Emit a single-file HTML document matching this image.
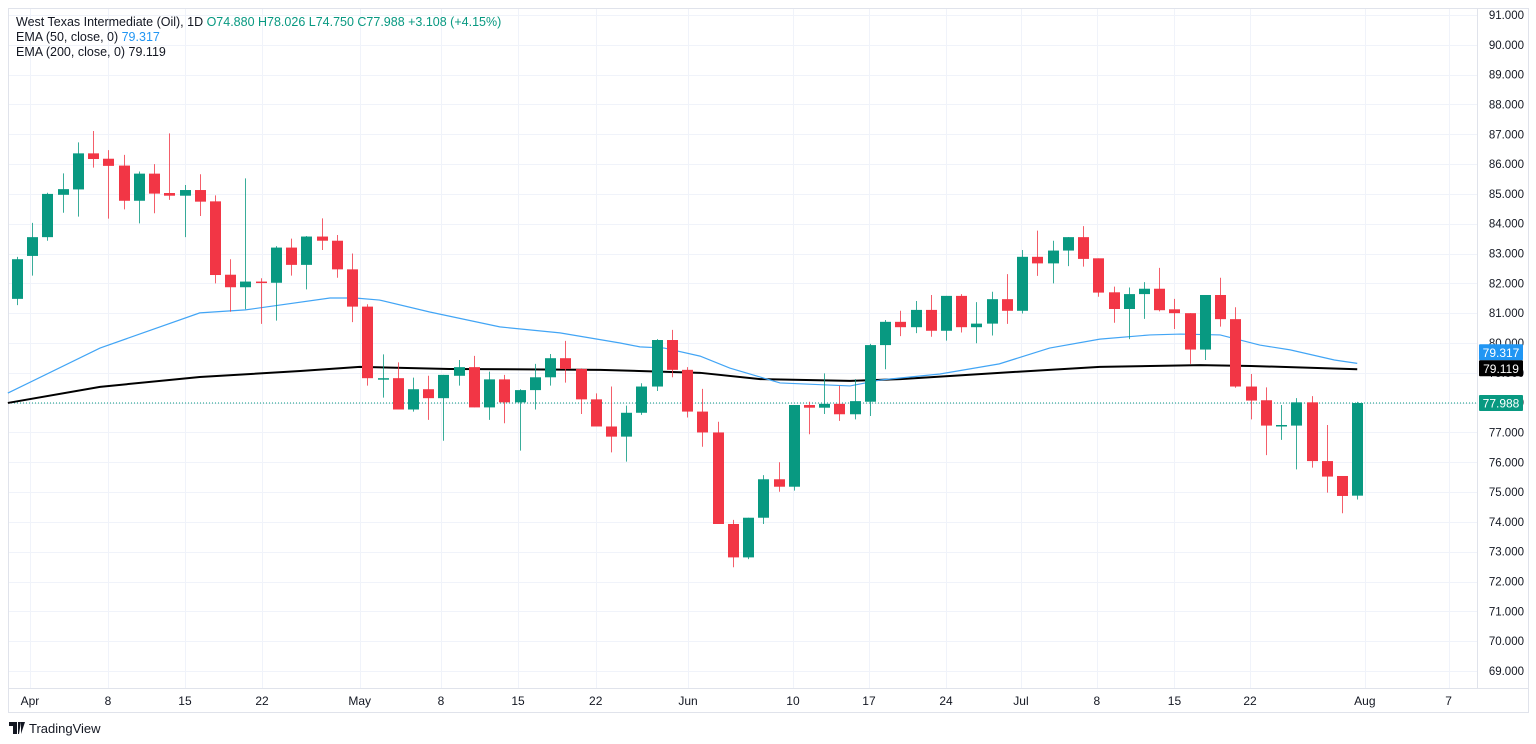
<!DOCTYPE html>
<html><head><meta charset="utf-8"><style>
html,body{margin:0;padding:0;background:#fff;width:1536px;height:744px;overflow:hidden}
svg{display:block;font-family:"Liberation Sans",sans-serif}
</style></head><body>
<svg id="chart" width="1536" height="744" viewBox="0 0 1536 744" xmlns="http://www.w3.org/2000/svg">
<rect x="0" y="0" width="1536" height="744" fill="#fff"/>
<g id="grid"></g>
<g id="frame">
<line x1="8.5" y1="8" x2="8.5" y2="713" stroke="#e0e3eb"/>
<line x1="1528.5" y1="8" x2="1528.5" y2="713" stroke="#e0e3eb"/>
<line x1="8" y1="8.5" x2="1528" y2="8.5" stroke="#e0e3eb"/>
<line x1="8" y1="688.5" x2="1528" y2="688.5" stroke="#e0e3eb"/>
<line x1="8" y1="712.5" x2="1528" y2="712.5" stroke="#e0e3eb"/>
<line x1="1477.5" y1="8" x2="1477.5" y2="688" stroke="#e0e3eb"/>
</g>
<g id="yaxis"></g>
<g id="xaxis"></g>
<g id="emas"></g>
<g id="candles"></g>
<g id="labels"></g>
<g font-size="12.5" fill="#131722">
<text x="16" y="26">West Texas Intermediate (Oil), 1D <tspan fill="#089981">O74.880  H78.026  L74.750  C77.988  +3.108 (+4.15%)</tspan></text>
<text x="16" y="41">EMA (50, close, 0) <tspan fill="#2196f3">79.317</tspan></text>
<text x="16" y="56">EMA (200, close, 0) 79.119</text>
</g>
<g>
<path d="M9 722h8v12h-4v-8H9z M18 722h3l-2 12h-1z M21 722h4l-4 12z" fill="#131722"/>
<text x="29" y="733" font-size="13" fill="#131722">TradingView</text>
</g>
</svg>
<script>
const opens  = [81.48,82.92,83.55,84.97,85.15,86.36,86.18,85.95,84.77,85.68,85.03,84.94,85.13,84.75,82.29,81.87,82.06,82.02,83.2,82.62,83.57,83.43,82.47,81.22,78.82,78.82,77.77,78.45,78.15,78.9,79.19,77.84,78.78,78.01,78.42,78.85,79.49,79.13,78.11,77.2,76.86,77.66,78.54,80.1,79.1,77.7,77.0,73.93,72.81,74.14,75.43,75.18,77.92,77.83,77.96,77.61,78.03,79.93,80.71,80.53,81.11,80.41,81.58,80.53,80.65,81.47,81.08,82.89,82.67,83.1,83.55,82.84,81.70,81.14,81.64,81.82,81.13,81.0,79.78,81.61,80.8,78.54,78.08,77.25,77.23,78.01,76.04,75.54,74.88];
const highs  = [82.89,84.03,85.04,85.69,86.73,87.11,86.47,86.31,85.75,86.0,87.03,85.30,85.66,84.95,82.81,85.52,82.17,83.25,83.5,83.59,84.18,83.62,83.0,81.3,79.62,79.35,78.84,78.9,78.93,79.43,79.57,79.04,78.93,78.45,79.3,79.63,80.07,79.15,78.31,78.54,77.9,78.65,80.13,80.44,79.19,78.46,77.36,74.07,74.14,75.57,76.0,77.92,78.03,78.98,78.56,78.79,79.97,80.77,81.08,81.41,81.61,81.58,81.64,81.37,81.72,82.31,83.12,83.77,83.43,83.55,83.92,82.84,81.89,81.86,82.04,82.52,81.48,81.0,81.61,82.19,81.2,78.96,78.51,77.92,78.15,78.22,77.25,75.54,78.026];
const lows   = [81.27,82.26,83.43,84.37,84.24,85.88,84.17,84.48,84.01,84.35,84.80,83.55,84.26,82.0,81.05,81.13,80.64,80.75,82.26,81.8,83.12,82.19,80.70,78.57,78.17,77.77,77.70,77.42,76.72,78.57,77.84,77.42,77.31,76.39,77.77,78.57,78.67,77.62,77.2,76.33,76.02,77.59,78.39,78.85,77.5,76.52,73.93,72.48,72.75,73.93,75.01,75.05,76.94,77.62,77.39,77.44,77.55,79.12,80.23,80.33,80.21,80.08,80.35,79.99,80.25,80.64,80.99,82.25,82.0,82.58,82.56,81.55,80.68,80.13,80.81,81.06,80.47,79.3,79.43,80.55,78.5,77.44,76.24,76.75,75.76,75.82,74.98,74.29,74.75];
const closes = [82.81,83.55,85.0,85.16,86.36,86.17,85.94,84.77,85.68,85.01,84.94,85.13,84.74,82.28,81.87,82.06,82.01,83.2,82.62,83.57,83.43,82.47,81.22,78.82,78.82,77.77,78.45,78.15,78.93,79.19,77.84,78.78,78.01,78.42,78.85,79.49,79.13,78.11,77.2,76.86,77.66,78.54,80.1,79.1,77.7,77.0,73.93,72.81,74.14,75.43,75.18,77.92,77.83,77.96,77.61,78.05,79.93,80.71,80.53,81.11,80.41,81.58,80.53,80.65,81.47,81.08,82.89,82.67,83.1,83.55,82.82,81.69,81.14,81.64,81.82,81.1,81.0,79.78,81.61,80.8,78.54,78.07,77.23,77.25,78.01,76.04,75.52,74.87,77.988];
const ema50Idx = [-0.6,5.45,12.0,15.0,20.55,22.2,23.8,27.1,31.7,35.65,39.6,40.9,42.5,44.85,46.8,50.1,54.7,56.7,60.6,64.5,67.8,71.1,74.4,76.4,79.0,81.6,83.6,86.5,88];
const ema50Val = [78.32,79.83,81.01,81.11,81.51,81.51,81.44,81.04,80.54,80.34,80.0,79.87,79.83,79.56,79.16,78.66,78.56,78.76,78.96,79.30,79.83,80.13,80.27,80.30,80.27,79.93,79.77,79.43,79.317];
const ema200Idx = [-0.6,5.45,12.0,18.6,22.5,28.4,38.3,44.85,48.8,54.7,58.0,64.5,71.1,77.7,81.0,88];
const ema200Val = [77.99,78.53,78.86,79.06,79.20,79.13,79.10,79.0,78.79,78.73,78.79,79.0,79.2,79.26,79.23,79.119];
const priceTicks = [91,90,89,88,87,86,85,84,83,82,81,80,79,78,77,76,75,74,73,72,71,70,69];
const timeTickLabels = ["Apr","8","15","22","May","8","15","22","Jun","10","17","24","Jul","8","15","22","Aug","7"];
const timeTickIdx = [0.85,5.97,11.03,16.09,22.5,27.84,32.9,38.0,44.06,50.95,55.94,61.0,65.92,70.9,76.0,80.96,88.5,94.0];
const lastPrice = 77.988;
const ema50Last = 79.317;
const ema200Last = 79.119;

const NS="http://www.w3.org/2000/svg";
const y=p=>15+(91-p)*29.818;
const x=i=>17+i*15.23;
function mk(tag,attrs,parent){const e=document.createElementNS(NS,tag);for(const k in attrs)e.setAttribute(k,attrs[k]);parent.appendChild(e);return e;}
const grid=document.getElementById('grid'),yax=document.getElementById('yaxis'),xax=document.getElementById('xaxis');
priceTicks.forEach(p=>{
  const l=mk('line',{x1:8,x2:1477,y1:Math.round(y(p))+0.5,y2:Math.round(y(p))+0.5,stroke:'#f0f3fa'},grid);
  
  
  const t=mk('text',{x:1524,y:y(p)+4,'text-anchor':'end','font-size':'11.5',fill:'#131722'},yax);
  
  
  t.textContent=p.toFixed(3);
});
timeTickIdx.forEach((i,k)=>{
  const l=mk('line',{x1:Math.round(x(i))+0.5,x2:Math.round(x(i))+0.5,y1:8,y2:688,stroke:'#f0f3fa'},grid);
  
  
  const t=mk('text',{x:x(i),y:705,'text-anchor':'middle','font-size':'12',fill:'#131722'},xax);
  
  
  t.textContent=timeTickLabels[k];
});
const lp=mk('line',{x1:8,x2:1477,y1:y(lastPrice),y2:y(lastPrice),stroke:'#089981','stroke-dasharray':'1 2','stroke-width':1},grid);


const em=document.getElementById('emas');
const e200=mk('polyline',{points:ema200Idx.map((i,k)=>x(i)+','+y(ema200Val[k])).join(' '),fill:'none',stroke:'#000','stroke-width':2},em);


const e50=mk('polyline',{points:ema50Idx.map((i,k)=>x(i)+','+y(ema50Val[k])).join(' '),fill:'none',stroke:'#42a5f5','stroke-width':1.2},em);


const cg=document.getElementById('candles');
opens.forEach((o,i)=>{
  const c=closes[i],up=c>=o,col=up?'#089981':'#f23645';
  const g=mk('g',{},cg);
  
  
  const cx=Math.round(x(i))+0.5;
  mk('line',{x1:cx,x2:cx,y1:y(highs[i]),y2:y(lows[i]),stroke:col,'stroke-width':1,opacity:0.8},g);
  const top=y(Math.max(o,c)),h=Math.max(1.5,Math.abs(y(o)-y(c)));
  mk('rect',{x:cx-5.5,y:top,width:11,height:h,fill:col},g);
});
const lb=document.getElementById('labels');
// label centres: EMA labels are stacked so they don't overlap
const c200=y(ema200Last)-1;
const c50=Math.min(y(ema50Last),c200-16);
[[ema50Last,'#2196f3',c50],[ema200Last,'#000',c200],[lastPrice,'#089981',y(lastPrice)]].forEach(([p,col,cy])=>{
  const g=mk('g',{},lb);
  
  
  mk('rect',{x:1479,y:cy-8,width:44,height:16,fill:col,rx:1},g);
  const t=mk('text',{x:1501,y:cy+4.5,'text-anchor':'middle','font-size':'12',fill:'#fff'},g);
  t.textContent=p.toFixed(3);
});
</script>
</body></html>
